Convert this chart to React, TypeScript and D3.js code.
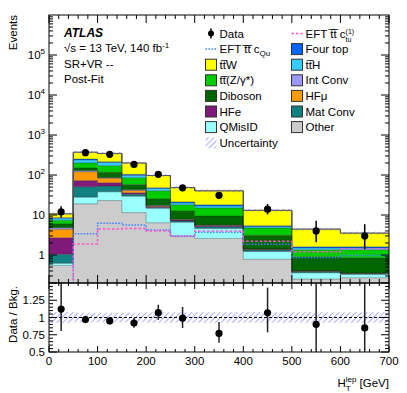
import * as d3 from "d3";

// binning in H_T^lep [GeV]
const binEdges = [0, 50, 100, 150, 200, 250, 300, 400, 500, 600, 700];
const binCenters = [25, 75, 125, 175, 225, 275, 350, 450, 550, 650];

// data and its (asymmetric) errors
const dataCounts = [12, 361, 330, 184, 104, 48, 31, 14, 4, 3];
const dataErrUp = [4.6, 20, 19.2, 14.6, 11.2, 7.9, 6.6, 4.8, 3.2, 2.9];
const dataErrDown = [3.4, 19, 18.2, 13.6, 10.2, 6.9, 5.5, 3.7, 1.9, 1.6];

// post-fit backgrounds, bottom of the stack first
const otherBkg = [0.55, 19, 23, 11.5, 6.4, 2.9, 2.6, 0.78, 0.25, 0.27];
const qMisID = [0.07, 9, 15, 18, 8.3, 3.7, 2.0, 0.45, 0.11, 0.06];
const matConv = [0.42, 23, 15, 3.5, 0.8, 0.5, 0.5, 0.1, 0.02, 0.01];
const hfE = [1.66, 22, 11, 3, 0.8, 0.4, 0.3, 0.05, 0.01, 0.005];
const hfMu = [1.7, 47, 19, 5, 0.5, 0.2, 0.1, 0.02, 0.005, 0.005];
const intConv = [0.4, 8, 3, 2, 0.4, 0.2, 0.1, 0.02, 0.005, 0.005];
const diboson = [1.2, 22, 31, 15, 8, 4.7, 3.8, 1.7, 0.5, 0.5];
const ttZ = [1.4, 50, 54, 28, 15, 5.5, 5.6, 1.6, 0.45, 0.5];
const ttH = [0.9, 38, 35, 12, 6, 2.0, 1.8, 0.4, 0.15, 0.15];
const fourTop = [0.3, 12, 10, 6, 2, 1.2, 1.2, 0.3, 0.1, 0.1];
const ttW = [2.1, 122, 131, 96, 49, 27.2, 22.3, 7.7, 2.84, 1.93];
const bkgRelUnc = [0.08, 0.07, 0.07, 0.07, 0.075, 0.075, 0.075, 0.075, 0.075, 0.075];

// EFT templates
const eftCQu = [0, 3.4, 6.2, 5.6, 4.2, 3.0, 3.7, 1.85, 0.86, 0.98];
const eftCtu = [0, 1.9, 4.5, 4.6, 4.0, 3.0, 4.0, 2.2, 1.2, 1.44];

const xTicks = [0, 100, 200, 300, 400, 500, 600, 700];
const yTicks = [1, 10, 100, 1000, 10000, 100000];
const ratioTicks = [0.5, 0.75, 1, 1.25];

const stack = [
  { name: "Other", color: "#cccccc", values: otherBkg },
  { name: "QMisID", color: "#99ffff", values: qMisID },
  { name: "Mat Conv", color: "#118080", values: matConv },
  { name: "HFe", color: "#801a7a", values: hfE },
  { name: "HFmu", color: "#ff9900", values: hfMu },
  { name: "Int Conv", color: "#9999ff", values: intConv },
  { name: "Diboson", color: "#006600", values: diboson },
  { name: "ttZ", color: "#00cc00", values: ttZ },
  { name: "ttH", color: "#33ccff", values: ttH },
  { name: "Four top", color: "#0066ff", values: fourTop },
  { name: "ttW", color: "#ffff00", values: ttW },
];

const FONT = "'Liberation Sans', Arial, Helvetica, sans-serif";
const FS = 11.5;
const OL = "\u0305";

const left = 49, right = 389, top = 15, mid = 283, bottom = 352;
const x = d3.scaleLinear([0, 700], [left, right]);
const y = d3.scaleLog([0.2, 1e6], [mid, top]).clamp(true);
const yr = d3.scaleLinear([0.5, 1.5], [bottom, mid]).clamp(true);

const nb = dataCounts.length;
const idx = (i: number) => Math.min(i, nb - 1);
const floorV = (v: number) => Math.max(v, 0.05);

export default function App() {
  // cumulative stack
  const cum: number[][] = [];
  let run = new Array(nb).fill(0);
  stack.forEach((s) => {
    const lo = run.slice();
    const hi = run.map((r, i) => r + s.values[i]);
    cum.push(lo, hi);
    run = hi;
  });
  const total = run;

  const area = d3
    .area<[number, number, number]>()
    .x((d) => x(d[0]))
    .y0((d) => y(floorV(d[1])))
    .y1((d) => y(floorV(d[2])))
    .curve(d3.curveStepAfter);
  const line = d3
    .line<[number, number]>()
    .x((d) => x(d[0]))
    .y((d) => y(floorV(d[1])))
    .curve(d3.curveStepAfter);
  const ratioArea = d3
    .area<[number, number]>()
    .x((d) => x(d[0]))
    .y0((d) => yr(1 - d[1]))
    .y1((d) => yr(1 + d[1]))
    .curve(d3.curveStepAfter);

  const pts = (lo: number[], hi: number[]) =>
    binEdges.map((e, i) => [e, lo[idx(i)], hi[idx(i)]] as [number, number, number]);
  const linePts = (v: number[]) => binEdges.map((e, i) => [e, v[idx(i)]] as [number, number]);

  const minorLog: number[] = [];
  for (let d = -1; d < 6; d++)
    for (let k = 2; k <= 9; k++) {
      const v = k * Math.pow(10, d);
      if (v > 0.2 && v < 1e6) minorLog.push(v);
    }
  const minorX = d3.range(0, 701, 20);
  const minorR = d3.range(0.5, 1.501, 0.05);

  const legendRowY = (i: number) => 33.5 + i * 15.6;
  const col1 = 205.5, col2 = 291.5, box = 11;
  const leg1 = [
    { label: "tt" + OL + "W", color: "#ffff00", row: 2 },
    { label: "tt" + OL + "(Z/\u03b3*)", color: "#00cc00", row: 3 },
    { label: "Diboson", color: "#006600", row: 4 },
    { label: "HFe", color: "#801a7a", row: 5 },
    { label: "QMisID", color: "#99ffff", row: 6 },
  ];
  const leg2 = [
    { label: "Four top", color: "#0066ff", row: 1 },
    { label: "tt" + OL + "H", color: "#33ccff", row: 2 },
    { label: "Int Conv", color: "#9999ff", row: 3 },
    { label: "HF\u03bc", color: "#ff9900", row: 4 },
    { label: "Mat Conv", color: "#118080", row: 5 },
    { label: "Other", color: "#cccccc", row: 6 },
  ];

  return (
    <svg
      width={407}
      height={393}
      style={{ position: "absolute", left: 0, top: 0, background: "#fff", fontFamily: FONT }}
    >
      <defs>
        <pattern id="hatch" width={4} height={4} patternUnits="userSpaceOnUse" patternTransform="rotate(45)">
          <line x1={0} y1={0} x2={0} y2={4} stroke="#5a5aff" strokeWidth={1} />
        </pattern>
        <clipPath id="mainClip">
          <rect x={left} y={top} width={right - left} height={mid - top} />
        </clipPath>
        <clipPath id="ratioClip">
          <rect x={left} y={mid} width={right - left} height={bottom - mid} />
        </clipPath>
      </defs>

      {/* main pad */}
      <g clipPath="url(#mainClip)">
        {stack.map((s, k) => (
          <path key={s.name} d={area(pts(cum[2 * k], cum[2 * k + 1])) || ""} fill={s.color} />
        ))}
        {stack.map((s, k) => (
          <path
            key={"l" + s.name}
            d={line(linePts(cum[2 * k + 1])) || ""}
            fill="none"
            stroke="#222"
            strokeWidth={0.5}
            strokeOpacity={0.7}
          />
        ))}
        <path d={line(linePts(total)) || ""} fill="none" stroke="#555" strokeWidth={1} />
        {binEdges.slice(1, -1).map((e, i) => (
          <line
            key={"v" + e}
            x1={x(e)}
            x2={x(e)}
            y1={y(total[i])}
            y2={y(total[i + 1])}
            stroke="#555"
            strokeWidth={1}
          />
        ))}
        <path
          d={area(pts(total.map((t, i) => t * (1 - bkgRelUnc[i])), total.map((t, i) => t * (1 + bkgRelUnc[i])))) || ""}
          fill="url(#hatch)"
        />
        <path d={line(linePts(eftCQu)) || ""} fill="none" stroke="#3f7fff" strokeWidth={1.5} strokeDasharray="1.5,1.5" />
        <path d={line(linePts(eftCtu)) || ""} fill="none" stroke="#ff55cc" strokeWidth={1.5} strokeDasharray="2.5,2" />
        {dataCounts.map((d, i) => (
          <g key={"d" + i}>
            <line
              x1={x(binCenters[i])}
              x2={x(binCenters[i])}
              y1={y(d - dataErrDown[i])}
              y2={y(d + dataErrUp[i])}
              stroke="#000"
              strokeWidth={1.5}
            />
            <circle cx={x(binCenters[i])} cy={y(d)} r={3.6} fill="#000" />
          </g>
        ))}
      </g>

      {/* main axes */}
      <rect x={left} y={top} width={right - left} height={mid - top} fill="none" stroke="#000" strokeWidth={1} />
      {yTicks.map((v) => (
        <g key={"yt" + v}>
          <line x1={left} x2={left + 8} y1={y(v)} y2={y(v)} stroke="#000" />
          <line x1={right} x2={right - 8} y1={y(v)} y2={y(v)} stroke="#000" />
        </g>
      ))}
      {minorLog.map((v) => (
        <g key={"ym" + v}>
          <line x1={left} x2={left + 4} y1={y(v)} y2={y(v)} stroke="#000" />
          <line x1={right} x2={right - 4} y1={y(v)} y2={y(v)} stroke="#000" />
        </g>
      ))}
      {minorX.map((v) => {
        const len = v % 100 === 0 ? 8 : 4;
        return (
          <g key={"xm" + v}>
            <line x1={x(v)} x2={x(v)} y1={top} y2={top + len} stroke="#000" />
            <line x1={x(v)} x2={x(v)} y1={mid} y2={mid - len} stroke="#000" />
            <line x1={x(v)} x2={x(v)} y1={mid} y2={mid + (len === 8 ? 6 : 3)} stroke="#000" />
            <line x1={x(v)} x2={x(v)} y1={bottom} y2={bottom - (len === 8 ? 6 : 3)} stroke="#000" />
          </g>
        );
      })}
      {yTicks.map((v) => {
        const p = Math.round(Math.log10(v));
        return (
          <text key={"yl" + v} x={45} y={y(v) + 4} textAnchor="end" fontSize={FS}>
            {p === 0 ? "1" : "10"}
            {p > 1 ? (
              <tspan dy={-5} fontSize={8}>
                {p}
              </tspan>
            ) : null}
          </text>
        );
      })}
      <text transform={`translate(17,${top}) rotate(-90)`} textAnchor="end" fontSize={FS}>
        Events
      </text>

      {/* labels */}
      <text x={64} y={36.5} fontSize={12} fontWeight="bold" fontStyle="italic">
        ATLAS
      </text>
      <text x={64} y={52} fontSize={FS}>
        {"\u221as = 13 TeV, 140 fb"}
        <tspan dy={-4.5} fontSize={8}>
          -1
        </tspan>
      </text>
      <text x={64} y={67.5} fontSize={FS}>
        SR+VR --
      </text>
      <text x={64} y={83} fontSize={FS}>
        Post-Fit
      </text>

      {/* legend */}
      <g fontSize={FS}>
        <line x1={col1 + 5.5} x2={col1 + 5.5} y1={legendRowY(0) - 5} y2={legendRowY(0) + 5} stroke="#000" strokeWidth={1.5} />
        <circle cx={col1 + 5.5} cy={legendRowY(0)} r={3} fill="#000" />
        <text x={col1 + 14} y={legendRowY(0) + 4}>
          Data
        </text>
        <line x1={col1} x2={col1 + 11} y1={legendRowY(1)} y2={legendRowY(1)} stroke="#3f7fff" strokeWidth={1.5} strokeDasharray="1.5,1.5" />
        <text x={col1 + 14} y={legendRowY(1) + 4}>
          {"EFT  t" + OL + "t" + OL + " c"}
          <tspan dy={3} fontSize={8}>
            Qu
          </tspan>
        </text>
        {leg1.map((l) => (
          <g key={l.label}>
            <rect x={col1} y={legendRowY(l.row) - box / 2} width={box} height={box} fill={l.color} stroke="#333" strokeWidth={1} />
            <text x={col1 + 14} y={legendRowY(l.row) + 4}>
              {l.label}
            </text>
          </g>
        ))}
        <rect x={col1} y={legendRowY(7) - box / 2} width={box} height={box} fill="url(#hatch)" />
        <text x={col1 + 14} y={legendRowY(7) + 4}>
          Uncertainty
        </text>

        <line x1={col2} x2={col2 + 11} y1={legendRowY(0)} y2={legendRowY(0)} stroke="#ff55cc" strokeWidth={1.5} strokeDasharray="2.5,2" />
        <text x={col2 + 14} y={legendRowY(0) + 4}>
          {"EFT  t" + OL + "t" + OL + " c"}
          <tspan dy={-4} fontSize={7}>
            (1)
          </tspan>
          <tspan dx={-8.6} dy={8} fontSize={7}>
            tu
          </tspan>
        </text>
        {leg2.map((l) => (
          <g key={l.label}>
            <rect x={col2} y={legendRowY(l.row) - box / 2} width={box} height={box} fill={l.color} stroke="#333" strokeWidth={1} />
            <text x={col2 + 14} y={legendRowY(l.row) + 4}>
              {l.label}
            </text>
          </g>
        ))}
      </g>

      {/* ratio pad */}
      <g clipPath="url(#ratioClip)">
        <path d={ratioArea(binEdges.map((e, i) => [e, bkgRelUnc[idx(i)]] as [number, number])) || ""} fill="url(#hatch)" />
        <line x1={left} x2={right} y1={yr(1)} y2={yr(1)} stroke="#000" strokeWidth={1} strokeDasharray="3,2" />
        {dataCounts.map((d, i) => (
          <g key={"r" + i}>
            <line
              x1={x(binCenters[i])}
              x2={x(binCenters[i])}
              y1={yr((d - dataErrDown[i]) / total[i])}
              y2={yr((d + dataErrUp[i]) / total[i])}
              stroke="#222"
              strokeWidth={1.5}
            />
            <circle cx={x(binCenters[i])} cy={yr(d / total[i])} r={3.6} fill="#000" />
          </g>
        ))}
      </g>
      <rect x={left} y={mid} width={right - left} height={bottom - mid} fill="none" stroke="#000" strokeWidth={1} />
      {minorR.map((v, i) => {
        const len = i % 5 === 0 ? 8 : 4;
        return (
          <g key={"rm" + i}>
            <line x1={left} x2={left + len} y1={yr(v)} y2={yr(v)} stroke="#000" />
            <line x1={right} x2={right - len} y1={yr(v)} y2={yr(v)} stroke="#000" />
          </g>
        );
      })}
      {ratioTicks.map((v) => (
        <text key={"rl" + v} x={45} y={yr(v) + 4} textAnchor="end" fontSize={FS}>
          {String(v)}
        </text>
      ))}
      <text transform={`translate(17,${mid + 3}) rotate(-90)`} textAnchor="end" fontSize={FS}>
        Data / Bkg.
      </text>
      {xTicks.map((v) => (
        <text key={"xl" + v} x={x(v)} y={365} textAnchor="middle" fontSize={FS}>
          {v}
        </text>
      ))}
      <text x={right} y={387} textAnchor="end" fontSize={FS}>
        H
        <tspan dy={-5} fontSize={8}>
          lep
        </tspan>
        <tspan dx={-10.7} dy={9} fontSize={8}>
          T
        </tspan>
        <tspan dx={5.8} dy={-4}>
          {"\u00a0[GeV]"}
        </tspan>
      </text>
    </svg>
  );
}
